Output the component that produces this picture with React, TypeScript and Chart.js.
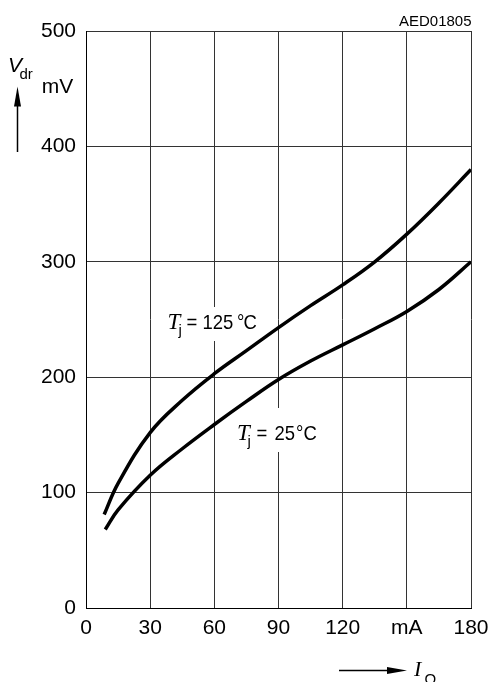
import React, { useEffect, useRef } from 'react';
import { Chart, registerables } from 'chart.js';

Chart.register(...registerables);

// I_Q (mA) and V_dr (mV) for Tj = 125 °C
const iq125 = [8.5, 15, 30, 45, 60, 75, 90, 105, 120, 135, 150, 165, 180];
const vdr125 = [81, 108, 152, 180, 203, 223, 243, 262, 280, 300, 324, 351, 380];
// I_Q (mA) and V_dr (mV) for Tj = 25 °C
const iq25 = [9, 15, 30, 45, 60, 75, 90, 105, 120, 135, 150, 165, 180];
const vdr25 = [68, 85, 115, 138, 159, 179, 198, 214, 228, 242, 257, 276, 300];

const xTickValues = [0, 30, 60, 90, 120, 150, 180];
const xTickLabels = ['0', '30', '60', '90', '120', 'mA', '180'];
const yTickValues = [0, 100, 200, 300, 400, 500];
const yTickLabels = ['0', '100', '200', '300', '400', '500'];

const SANS = '"Liberation Sans", Arial, Helvetica, sans-serif';
const SERIF = '"Liberation Serif", "Times New Roman", serif';

function txt(ctx: CanvasRenderingContext2D, s: string, x: number, y: number, font: string, sx = 1, align: CanvasTextAlign = 'left') {
  ctx.save();
  ctx.font = font;
  ctx.textAlign = align;
  ctx.textBaseline = 'alphabetic';
  ctx.fillStyle = '#000';
  ctx.translate(x, y);
  ctx.scale(sx, 1);
  ctx.fillText(s, 0, 0);
  ctx.restore();
}

const overlayPlugin = {
  id: 'overlay',
  beforeDatasetsDraw(chart: any) {
    const ctx = chart.ctx as CanvasRenderingContext2D;
    ctx.save();
    ctx.fillStyle = '#fff';
    ctx.fillRect(166, 307, 97, 34);
    ctx.fillRect(236, 408, 87, 44);
    ctx.restore();
  },
  afterDraw(chart: any) {
    const ctx = chart.ctx as CanvasRenderingContext2D;
    // code top right
    txt(ctx, 'AED01805', 471.5, 26, `15px ${SANS}`, 1, 'right');
    // y axis unit & name
    txt(ctx, 'mV', 57.5, 93, `21px ${SANS}`, 1, 'center');
    txt(ctx, 'V', 8, 72, `italic 21px ${SANS}`);
    txt(ctx, 'dr', 19.5, 79, `15px ${SANS}`);
    // vertical arrow
    ctx.save();
    ctx.strokeStyle = '#000';
    ctx.fillStyle = '#000';
    ctx.lineWidth = 1.5;
    ctx.beginPath();
    ctx.moveTo(17.5, 152);
    ctx.lineTo(17.5, 102);
    ctx.stroke();
    ctx.beginPath();
    ctx.moveTo(17.5, 86.5);
    ctx.lineTo(21, 106.5);
    ctx.lineTo(14, 106.5);
    ctx.closePath();
    ctx.fill();
    // horizontal arrow
    ctx.beginPath();
    ctx.moveTo(339, 670.5);
    ctx.lineTo(390, 670.5);
    ctx.stroke();
    ctx.beginPath();
    ctx.moveTo(407, 670.5);
    ctx.lineTo(387, 667);
    ctx.lineTo(387, 674);
    ctx.closePath();
    ctx.fill();
    ctx.restore();
    txt(ctx, 'I', 414, 675.5, `italic 22px ${SERIF}`);
    txt(ctx, 'Q', 424.5, 684, `15px ${SANS}`);
    // curve labels
    txt(ctx, 'T', 167.5, 328.5, `italic 23px ${SERIF}`);
    txt(ctx, 'j', 178.5, 334.5, `15px ${SANS}`);
    txt(ctx, '=', 186.5, 328.5, `21px ${SANS}`, 0.88);
    txt(ctx, '125', 202.5, 328.5, `21px ${SANS}`, 0.88);
    txt(ctx, '°', 237, 328.5, `21px ${SANS}`, 0.88);
    txt(ctx, 'C', 243.5, 328.5, `21px ${SANS}`, 0.88);

    txt(ctx, 'T', 237, 440, `italic 23px ${SERIF}`);
    txt(ctx, 'j', 247.5, 446, `15px ${SANS}`);
    txt(ctx, '=', 256.5, 440, `21px ${SANS}`, 0.88);
    txt(ctx, '25', 274.5, 440, `21px ${SANS}`, 0.88);
    txt(ctx, '°', 296, 440, `21px ${SANS}`, 0.88);
    txt(ctx, 'C', 303.5, 440, `21px ${SANS}`, 0.88);
  },
};

export default function App() {
  const ref = useRef<HTMLCanvasElement | null>(null);
  useEffect(() => {
    if (!ref.current) return;
    const toXY = (xs: number[], ys: number[]) => xs.map((x, i) => ({ x, y: ys[i] }));
    const chart = new Chart(ref.current, {
      type: 'line',
      data: {
        datasets: [
          {
            label: 'Tj = 125 °C',
            data: toXY(iq125, vdr125),
            borderColor: '#000',
            borderWidth: 3.5,
            pointRadius: 0,
            tension: 0.4,
            borderCapStyle: 'butt',
            fill: false,
          },
          {
            label: 'Tj = 25 °C',
            data: toXY(iq25, vdr25),
            borderColor: '#000',
            borderWidth: 3.5,
            pointRadius: 0,
            tension: 0.4,
            borderCapStyle: 'butt',
            fill: false,
          },
        ],
      },
      options: {
        responsive: false,
        animation: false,
        devicePixelRatio: 1,
        layout: { padding: { left: 0, top: 31, right: 18, bottom: 0 } },
        plugins: { legend: { display: false }, tooltip: { enabled: false } },
        scales: {
          x: {
            type: 'linear',
            min: 0,
            max: 180,
            afterBuildTicks: (s: any) => {
              s.ticks = xTickValues.map((v) => ({ value: v }));
            },
            afterFit: (s: any) => {
              s.height = 74;
              s.paddingLeft = 0;
              s.paddingRight = 0;
            },
            ticks: {
              autoSkip: false,
              maxRotation: 0,
              padding: 8,
              color: '#000',
              font: { family: SANS, size: 21 },
              callback: (v: any) => {
                const i = xTickValues.indexOf(Number(v));
                return i >= 0 ? xTickLabels[i] : '';
              },
            },
            grid: { color: '#333', lineWidth: 1, drawTicks: false },
            border: { color: '#000', width: 1 },
          },
          y: {
            type: 'linear',
            min: 0,
            max: 500,
            afterBuildTicks: (s: any) => {
              s.ticks = yTickValues.map((v) => ({ value: v }));
            },
            afterFit: (s: any) => {
              s.width = 86;
              s.paddingTop = 0;
              s.paddingBottom = 0;
            },
            ticks: {
              autoSkip: false,
              padding: 10,
              color: '#000',
              font: { family: SANS, size: 21 },
              callback: (v: any) => {
                const i = yTickValues.indexOf(Number(v));
                return i >= 0 ? yTickLabels[i] : '';
              },
            },
            grid: { color: '#333', lineWidth: 1, drawTicks: false },
            border: { color: '#000', width: 1 },
          },
        },
      },
      plugins: [overlayPlugin],
    } as any);
    return () => chart.destroy();
  }, []);
  return (
    <div style={{ position: 'absolute', left: 0, top: 0, width: 489, height: 682, background: '#fff' }}>
      <canvas ref={ref} width={489} height={682} style={{ display: 'block' }} />
    </div>
  );
}
